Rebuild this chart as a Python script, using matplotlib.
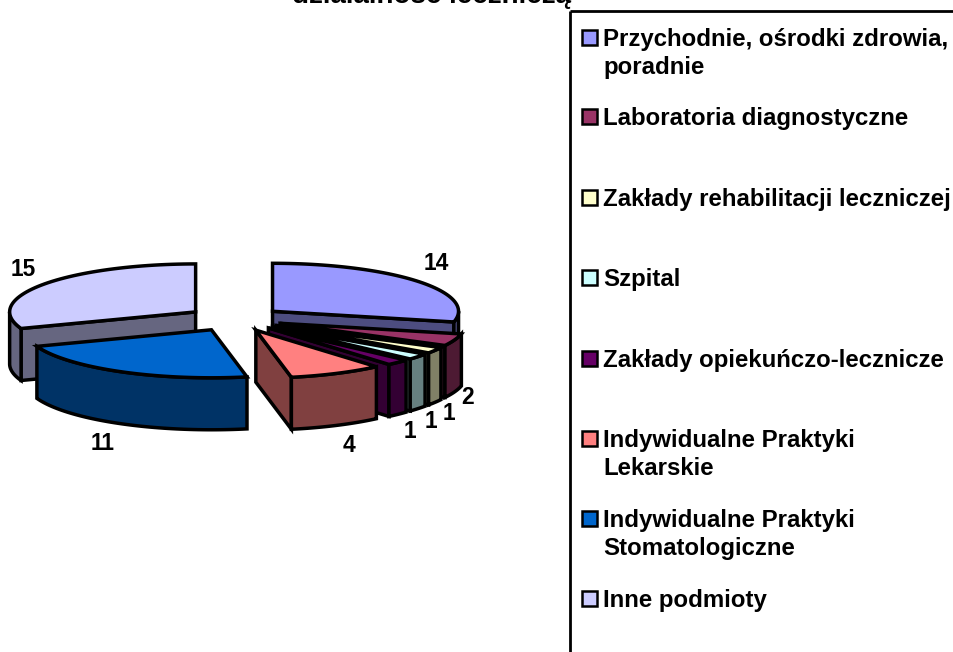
import numpy as np
import matplotlib
matplotlib.use("Agg")
import matplotlib.pyplot as plt
from matplotlib.patches import Polygon, Rectangle

plt.rcParams['font.family'] = ['Liberation Sans', 'DejaVu Sans']

labels = ["Przychodnie, ośrodki zdrowia,\nporadnie", "Laboratoria diagnostyczne",
          "Zakłady rehabilitacji leczniczej", "Szpital", "Zakłady opiekuńczo-lecznicze",
          "Indywidualne Praktyki\nLekarskie", "Indywidualne Praktyki\nStomatologiczne", "Inne podmioty"]
values = [14, 2, 1, 1, 1, 4, 11, 15]
top_colors = ["#9999ff", "#993366", "#ffffcc", "#ccffff", "#660066", "#ff8080", "#0066cc", "#ccccff"]
side_colors = ["#4d4d80", "#4d1a33", "#808066", "#668080", "#330033", "#804040", "#003366", "#666680"]

# geometry of the fake 3d pie, in pixels
cx, cy = 235, 319
R, k = 186, 0.258
explode = 48
depth = 52
lw = 2.5


def pt(x0, y0, a):
    return x0 + R * np.sin(a), y0 - k * R * np.cos(a)


def arc(x0, y0, a0, a1):
    t = np.linspace(a0, a1, 60)
    return np.column_stack(pt(x0, y0, t))


def draw_slice(ax, a0, a1, top, side):
    mid = (a0 + a1) / 2
    x0 = cx + explode * np.sin(mid)
    y0 = cy - k * explode * np.cos(mid)

    # cut faces, only those turned to the viewer
    for a, seen in ((a0, np.sin(a0) < 0), (a1, np.sin(a1) > 0)):
        if seen:
            xe, ye = pt(x0, y0, a)
            ax.add_patch(Polygon([(x0, y0), (xe, ye), (xe, ye + depth), (x0, y0 + depth)],
                                 fc=side, ec="k", lw=lw, joinstyle="miter"))
    # outer wall, front half only
    w0, w1 = max(a0, np.pi / 2), min(a1, 3 * np.pi / 2)
    if w1 > w0:
        edge = arc(x0, y0, w0, w1)
        ax.add_patch(Polygon(np.vstack([edge, (edge + [0, depth])[::-1]]),
                             fc=side, ec="k", lw=lw, joinstyle="miter"))
    ax.add_patch(Polygon(np.vstack([[(x0, y0)], arc(x0, y0, a0, a1)]),
                         fc=top, ec="k", lw=lw, joinstyle="miter"))


fig = plt.figure(figsize=(9.54, 6.52), dpi=100)
ax = fig.add_axes([0, 0, 1, 1])
ax.set_xlim(0, 954)
ax.set_ylim(652, 0)
ax.axis("off")

edges = np.cumsum([0] + values) / sum(values) * 2 * np.pi
# back to front: the big left slice first, then blue, then the right side clockwise
for i in [7, 6, 0, 1, 2, 3, 4, 5]:
    draw_slice(ax, edges[i], edges[i + 1], top_colors[i], side_colors[i])

value_x = [436, 468, 449, 431, 410, 349, 103, 23]
value_y = [263, 397, 413, 421, 431, 446, 444, 269]
for v, x, y in zip(values, value_x, value_y):
    ax.text(x, y, str(v), fontsize=16.4, fontweight="bold", ha="center", va="center")

ax.text(432, 3, "działalność leczniczą", fontsize=20, fontweight="bold", ha="center", va="baseline")

# legend box, runs off the right and bottom
ax.plot([570, 570], [652, 11], color="k", lw=2, solid_capstyle="butt")
ax.plot([570, 954], [11, 11], color="k", lw=2, solid_capstyle="butt")
legend_y = [38, 117, 198, 278, 359, 439, 519, 599]
for name, y, c in zip(labels, legend_y, top_colors):
    ax.add_patch(Rectangle((582, y - 8), 15, 15, fc=c, ec="k", lw=1.8))
    ax.text(603, y - 10, name, fontsize=17.3, fontweight="bold", ha="left", va="top", linespacing=1.26)

fig.savefig("out.png", dpi=100)
